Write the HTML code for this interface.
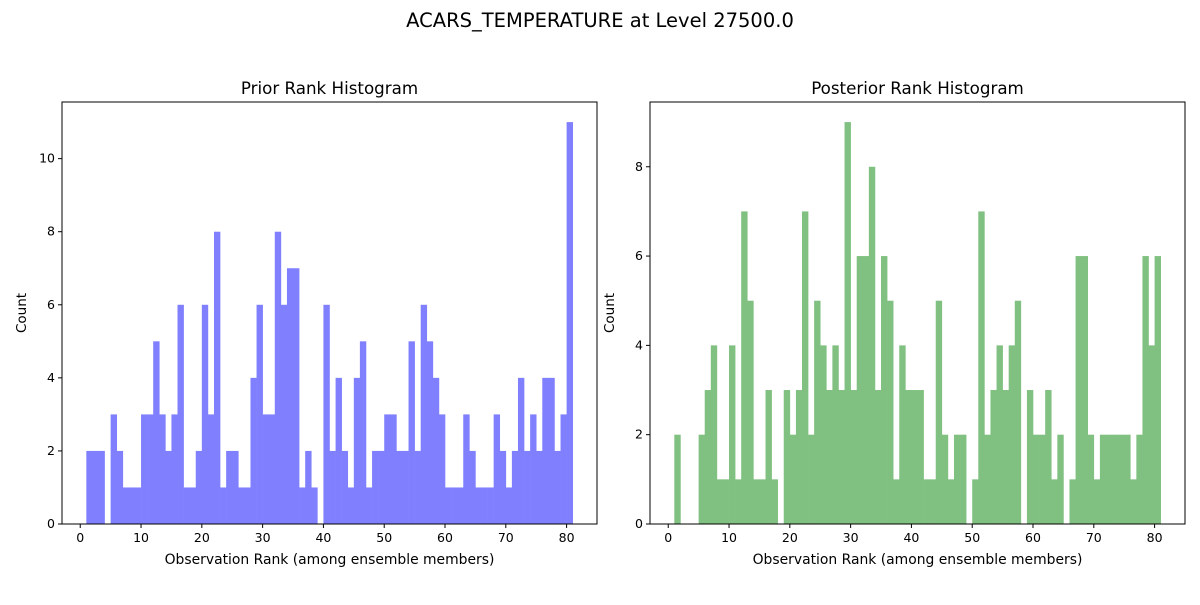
<!DOCTYPE html>
<html><head><meta charset="utf-8"><style>
body{margin:0;background:#fff;font-family:"Liberation Sans","DejaVu Sans",sans-serif}
svg text{font-family:"DejaVu Sans","Liberation Sans",sans-serif;fill:#000}
</style></head><body>
<svg id="chart" width="1200" height="600" viewBox="0 0 1200 600" xmlns="http://www.w3.org/2000/svg">
<rect width="1200" height="600" fill="#fff"/>
<text x="600" y="27" text-anchor="middle" font-size="19.5">ACARS_TEMPERATURE at Level 27500.0</text>
</svg>
<script>
const priorCounts = [2,2,2,0,3,2,1,1,1,3,3,5,3,2,3,6,1,1,2,6,3,8,1,2,2,1,1,4,6,3,3,8,6,7,7,1,2,1,0,6,2,4,2,1,4,5,1,2,2,3,3,2,2,5,2,6,5,4,3,1,1,1,3,2,1,1,1,3,2,1,2,4,2,3,2,4,4,2,3,11];
const posteriorCounts = [2,0,0,0,2,3,4,1,1,4,1,7,5,1,1,3,1,0,3,2,3,7,2,5,4,3,4,3,9,3,6,6,8,3,6,5,1,4,3,3,3,1,1,5,2,1,2,2,0,1,7,2,3,4,3,4,5,0,3,2,2,3,1,2,0,1,6,6,2,1,2,2,2,2,2,1,2,6,4,6];
const xTicks = [0,10,20,30,40,50,60,70,80];
const priorYTicks = [0,2,4,6,8,10];
const postYTicks = [0,2,4,6,8];
const binStart = 1;

const NS = 'http://www.w3.org/2000/svg';
const svg = document.getElementById('chart');
function mk(tag, attrs, parent){const e=document.createElementNS(NS,tag);for(const k in attrs)e.setAttribute(k,attrs[k]);(parent||svg).appendChild(e);return e;}

function panel(key, left, right, top, bottom, counts, yTicks, color, title){
  const g = mk('g',{});
  
  
  const n = counts.length;
  const xmin = binStart - 0.05*n, xmax = binStart + n + 0.05*n;
  const ymax = Math.max(...counts)*1.05;
  const sx = v => left + (v - xmin)/(xmax - xmin)*(right-left);
  const sy = v => bottom - v/ymax*(bottom-top);
  counts.forEach((c,i)=>{
    if(c<=0) return;
    const r = mk('rect',{x:sx(binStart+i),y:sy(c),width:sx(binStart+i+1)-sx(binStart+i)+0.3,height:sy(0)-sy(c),fill:color},g);
    
    
  });
  mk('rect',{x:left,y:top,width:right-left,height:bottom-top,fill:'none',stroke:'#000','stroke-width':1},g);
  xTicks.forEach(t=>{
    const x=sx(t);
    mk('line',{x1:x,x2:x,y1:bottom,y2:bottom+4,stroke:'#000'},g);
    const tx = mk('text',{x:x,y:bottom+18,'text-anchor':'middle','font-size':12.5},g);
    tx.textContent=t;
    
    
  });
  yTicks.forEach(t=>{
    const y=sy(t);
    mk('line',{x1:left-4,x2:left,y1:y,y2:y,stroke:'#000'},g);
    const tx = mk('text',{x:left-7,y:y+4,'text-anchor':'end','font-size':12.5},g);
    tx.textContent=t;
    
    
  });
  const tt = mk('text',{x:(left+right)/2,y:top-8,'text-anchor':'middle','font-size':16.7},g);
  tt.textContent=title;
  
  
  const xl = mk('text',{x:(left+right)/2,y:bottom+40,'text-anchor':'middle','font-size':13.9},g);
  xl.textContent='Observation Rank (among ensemble members)';
  
  
  const yl = mk('text',{x:0,y:0,'text-anchor':'middle','font-size':13.5,transform:`translate(${left-36},${(top+bottom)/2}) rotate(-90)`},g);
  yl.textContent='Count';
  
  
}
panel('prior', 62, 597, 102, 524, priorCounts, priorYTicks, '#8080ff', 'Prior Rank Histogram');
panel('posterior', 650, 1185, 102, 524, posteriorCounts, postYTicks, '#80c080', 'Posterior Rank Histogram');
</script>
</body></html>
